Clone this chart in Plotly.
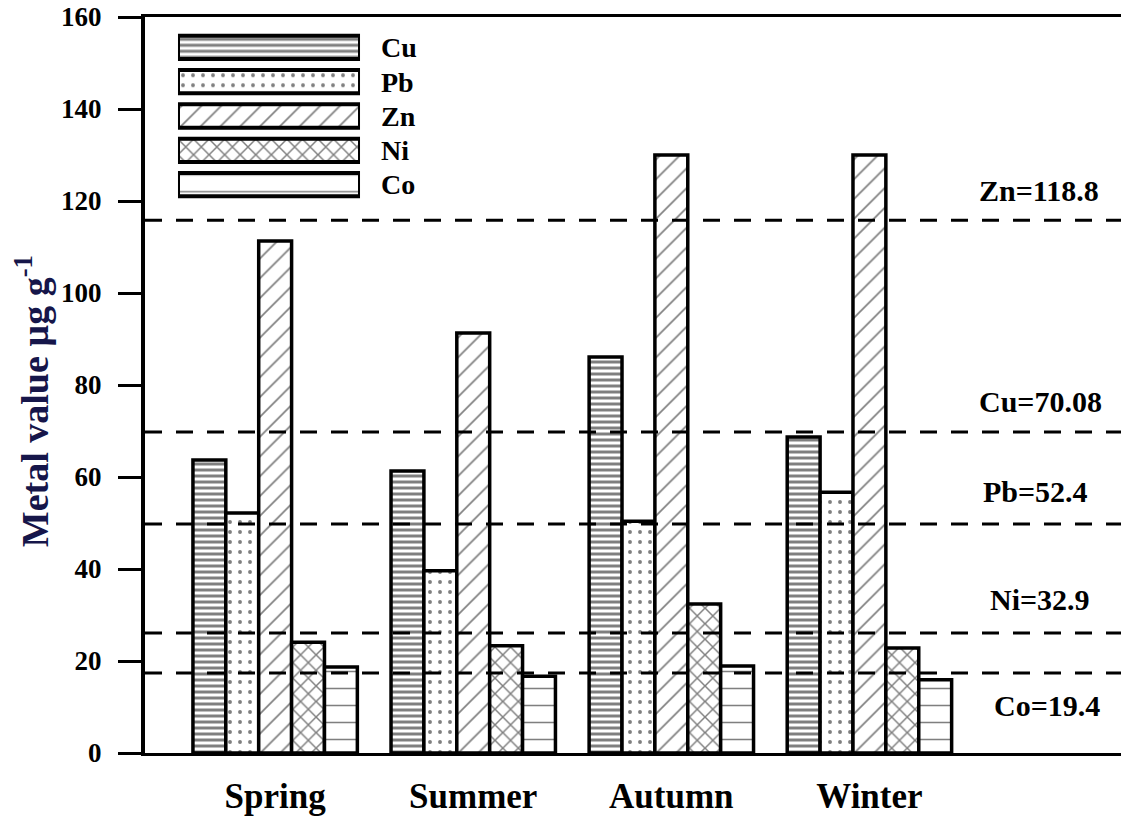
import plotly.graph_objects as go

# ---- data ----
seasons = ["Spring", "Summer", "Autumn", "Winter"]
metals = ["Cu", "Pb", "Zn", "Ni", "Co"]
cu = [63.7, 61.3, 86.1, 68.7]
pb = [52.2, 39.6, 50.4, 56.7]
zn = [111.3, 91.3, 130.0, 130.0]
ni = [24.1, 23.3, 32.4, 22.8]
co = [18.7, 16.7, 18.9, 15.9]
ref_labels = ["Zn=118.8", "Cu=70.08", "Pb=52.4", "Ni=32.9", "Co=19.4"]
ref_lines = [115.8, 69.8, 49.8, 26.1, 17.4]
y_ticks = [0, 20, 40, 60, 80, 100, 120, 140, 160]
y_title = "Metal value µg g<sup>-1</sup>"

series = {"Cu": cu, "Pb": pb, "Zn": zn, "Ni": ni, "Co": co}

# ---- styles ----
FONT = "Liberation Serif"
pat_shape = {"Cu": "-", "Pb": ".", "Zn": "/", "Ni": "x", "Co": "-"}
pat_size = {"Cu": 6, "Pb": 10, "Zn": 14, "Ni": 11, "Co": 17}
pat_solid = {"Cu": 0.5, "Pb": 0.12, "Zn": 0.12, "Ni": 0.25, "Co": 0.09}
label_shift = {"Zn=118.8": 30, "Cu=70.08": 30, "Pb=52.4": 32, "Ni=32.9": 33, "Co=19.4": -33}
label_x = {"Zn=118.8": 0.916, "Cu=70.08": 0.918, "Pb=52.4": 0.912, "Ni=32.9": 0.917, "Co=19.4": 0.924}

fig = go.Figure()
for m in metals:
    fig.add_trace(go.Bar(
        x=seasons, y=series[m], name=m, showlegend=False,
        marker=dict(color="white", line=dict(color="black", width=3.5),
                    pattern=dict(shape=pat_shape[m], size=pat_size[m],
                                 solidity=pat_solid[m], fgcolor="black",
                                 bgcolor="white")),
        xaxis="x", yaxis="y",
    ))

# legend drawn as an inset of horizontal patterned bars
fig.add_trace(go.Bar(
    y=metals, x=[1] * len(metals), orientation="h", showlegend=False,
    width=0.68,
    marker=dict(color="white", line=dict(color="black", width=4),
                pattern=dict(shape=[pat_shape[m] for m in metals],
                             size=[pat_size[m] for m in metals],
                             solidity=[pat_solid[m] for m in metals],
                             fgcolor="black", bgcolor="white")),
    xaxis="x2", yaxis="y2", hoverinfo="skip",
))

# reference lines
for lab, v in zip(ref_labels, ref_lines):
    fig.add_shape(type="line", xref="paper", x0=0, x1=1, yref="y", y0=v, y1=v,
                  line=dict(color="black", width=3, dash="17px,14px"), layer="above")
    fig.add_annotation(text=lab, xref="paper", x=label_x[lab], xanchor="center",
                       yref="y", y=v, yanchor="middle",
                       yshift=label_shift[lab], showarrow=False,
                       font=dict(family=FONT, size=30, color="black", weight="bold"))

# y-axis title placed as rotated annotation
fig.add_annotation(text=y_title, xref="paper", x=-0.1158, yref="paper", y=0.478,
                   xanchor="center", yanchor="middle", textangle=-90, showarrow=False,
                   font=dict(family=FONT, size=38, color="#16164a", weight="bold"))

fig.update_layout(
    width=1121, height=817,
    margin=dict(l=145, r=0, t=17, b=64, autoexpand=False),
    paper_bgcolor="white", plot_bgcolor="white",
    barmode="group", bargap=0.17, bargroupgap=0,
    font=dict(family=FONT, color="black"),
    xaxis=dict(
        type="category", range=[-0.657, 4.27], showgrid=False,
        showline=True, linecolor="black", linewidth=3, mirror=True,
        ticks="", ticklabelstandoff=10, automargin=False,
        tickfont=dict(family=FONT, size=35, color="black", weight="bold"),
        zeroline=False,
    ),
    yaxis=dict(
        range=[0, 160], tickvals=y_ticks, showgrid=False, zeroline=False,
        showline=True, linecolor="black", linewidth=4, automargin=False,
        ticks="outside", ticklen=23, tickwidth=3, tickcolor="black",
        ticklabelstandoff=11,
        tickfont=dict(family=FONT, size=27, color="black", weight="bold"),
    ),
    xaxis2=dict(domain=[0.0338, 0.2203], range=[0, 1], anchor="y2",
                visible=False, fixedrange=True),
    yaxis2=dict(domain=[0.749, 0.982], anchor="x2", side="right",
                type="category", categoryorder="array", categoryarray=metals,
                autorange="reversed", showline=False, showgrid=False,
                zeroline=False, ticks="", ticklabelstandoff=20, automargin=False,
                tickfont=dict(family=FONT, size=28, color="black", weight="bold")),
)

fig.write_html("out.html", config={"displayModeBar": False},
               post_script="document.body.style.margin='0px';")
